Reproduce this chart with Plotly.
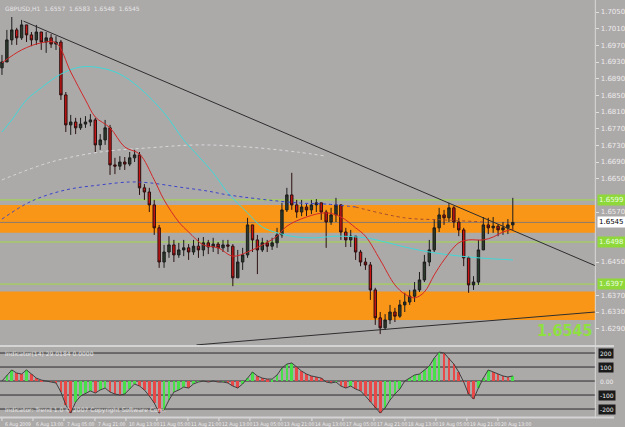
import plotly.graph_objects as go

# ---------------- data ----------------
first_open = 1.6916
close = [1.6930,1.6983,1.7007,1.6988,1.7019,1.6995,1.6983,1.7002,1.6978,1.6988,
         1.6973,1.6978,1.6851,1.6779,1.6786,1.6772,1.6781,1.6786,1.6791,1.6731,
         1.6743,1.6772,1.6683,1.6680,1.6690,1.6685,1.6700,1.6707,1.6628,1.6618,
         1.6587,1.6532,1.6450,1.6474,1.6491,1.6467,1.6479,1.6484,1.6474,1.6488,
         1.6479,1.6496,1.6486,1.6493,1.6484,1.6491,1.6488,1.6412,1.6450,1.6467,
         1.6539,1.6503,1.6479,1.6496,1.6488,1.6496,1.6515,1.6575,1.6611,1.6587,
         1.6570,1.6582,1.6575,1.6587,1.6592,1.6570,1.6546,1.6563,1.6587,1.6522,
         1.6503,1.6512,1.6474,1.6450,1.6443,1.6383,1.6316,1.6292,1.6311,1.6330,
         1.6320,1.6347,1.6354,1.6368,1.6383,1.6407,1.6450,1.6479,1.6532,1.6563,
         1.6556,1.6580,1.6546,1.6527,1.6460,1.6395,1.6402,1.6479,1.6539,1.6532,
         1.6536,1.6527,1.6532,1.6539,1.6545]
high = [1.6947,1.7007,1.7038,1.7012,1.7031,1.7012,1.7002,1.7019,1.7000,1.7002,
        1.6997,1.6992,1.6983,1.6858,1.6803,1.6796,1.6796,1.6800,1.6805,1.6796,
        1.6757,1.6791,1.6779,1.6700,1.6704,1.6702,1.6714,1.6719,1.6714,1.6637,
        1.6628,1.6599,1.6539,1.6491,1.6512,1.6503,1.6496,1.6503,1.6493,1.6503,
        1.6508,1.6510,1.6503,1.6508,1.6498,1.6503,1.6503,1.6493,1.6479,1.6484,
        1.6556,1.6532,1.6515,1.6508,1.6503,1.6508,1.6532,1.6592,1.6628,1.6664,
        1.6599,1.6599,1.6589,1.6599,1.6601,1.6589,1.6575,1.6580,1.6604,1.6589,
        1.6532,1.6527,1.6512,1.6479,1.6460,1.6450,1.6388,1.6330,1.6325,1.6347,
        1.6340,1.6359,1.6376,1.6383,1.6402,1.6426,1.6467,1.6503,1.6551,1.6580,
        1.6575,1.6592,1.6584,1.6556,1.6532,1.6464,1.6416,1.6503,1.6558,1.6556,
        1.6558,1.6541,1.6546,1.6553,1.6604]
low = [1.6899,1.6940,1.6971,1.6971,1.6983,1.6978,1.6968,1.6971,1.6959,1.6952,
       1.6964,1.6959,1.6839,1.6762,1.6755,1.6757,1.6767,1.6772,1.6776,1.6714,
       1.6719,1.6731,1.6659,1.6661,1.6671,1.6671,1.6680,1.6690,1.6611,1.6599,
       1.6570,1.6515,1.6436,1.6436,1.6460,1.6450,1.6460,1.6464,1.6455,1.6467,
       1.6460,1.6464,1.6469,1.6474,1.6469,1.6474,1.6474,1.6392,1.6421,1.6431,
       1.6460,1.6474,1.6421,1.6474,1.6474,1.6479,1.6484,1.6508,1.6570,1.6575,
       1.6556,1.6560,1.6560,1.6565,1.6570,1.6551,1.6484,1.6539,1.6546,1.6503,
       1.6486,1.6486,1.6455,1.6440,1.6431,1.6359,1.6299,1.6277,1.6287,1.6301,
       1.6306,1.6316,1.6330,1.6347,1.6354,1.6378,1.6402,1.6440,1.6474,1.6522,
       1.6539,1.6546,1.6532,1.6512,1.6440,1.6376,1.6383,1.6395,1.6484,1.6517,
       1.6520,1.6512,1.6515,1.6517,1.6527]

# moving averages sampled at bar indices
ma_red_idx = [0,4,8,11,14,17,19,22,25,28,31,33,36,38,41,44,47,50,53,56,58,62,66,69,72,74,77,80,82,84,86,88,90,93,95,98,100,102,104]
ma_red = [1.6928,1.6959,1.6976,1.6976,1.6906,1.6839,1.6798,1.6772,1.6726,1.6709,1.6647,1.6599,1.6546,
          1.6522,1.6491,1.6484,1.6464,1.6474,1.6491,1.6512,1.6536,1.6558,1.6568,1.6558,1.6532,1.6512,
          1.6455,1.6395,1.6373,1.6364,1.6378,1.6419,1.6455,1.6496,1.6503,1.6503,1.6510,1.6522,1.6529]
ma_cyan_idx = [0,2,5,8,12,16,20,24,28,33,37,40,43,46,50,53,57,60,64,68,74,78,82,88,97,104]
ma_cyan = [1.6762,1.6791,1.6839,1.6868,1.6901,1.6918,1.6916,1.6901,1.6868,1.6808,1.6743,1.6704,1.6664,
           1.6616,1.6568,1.6534,1.6517,1.6510,1.6508,1.6512,1.6508,1.6498,1.6486,1.6472,1.6460,1.6455]
ma_blue_idx = [0,6,13,20,26,30,36,42,46,60,66,72]
ma_blue = [1.6553,1.6596,1.6623,1.6635,1.6642,1.6640,1.6630,1.6620,1.6611,1.6592,1.6589,1.6582]
ma_brown_idx = [72,82,90,98]
ma_brown = [1.6582,1.6556,1.6551,1.6546]
ma_white_idx = [0,10,20,30,40,50,60,66]
ma_white = [1.6647,1.6690,1.6714,1.6724,1.6731,1.6726,1.6714,1.6704]

# oscillator (sub window)
osc = [0,43,79,57,50,79,50,21,7,0,-7,-14,-79,-171,-229,-150,-107,-86,-71,-86,
       -64,-50,-79,-93,-100,-93,-57,-21,-36,-64,-107,-157,-229,-207,-136,-79,-64,-43,-50,-21,
       -7,0,-7,0,-7,-7,-14,-36,-50,-21,21,64,36,21,14,14,43,93,121,129,
       100,71,50,36,29,21,-7,-14,-7,-36,-50,-36,-57,-71,-107,-150,-193,-229,-193,-136,
       -93,-57,0,21,43,50,79,107,164,207,200,164,121,64,-7,-93,-129,-50,21,79,
       64,50,36,29,36]
osc_levels = [200, 100, 0, -100, -200]

# horizontal objects
band_upper = (1.6587, 1.6520)
band_lower = (1.6379, 1.6311)
green_levels = [1.6599, 1.6498, 1.6397]
last_price = 1.6545
trend_down = ([4.4, 120.8], [1.7028, 1.6441])
trend_up = ([39.6, 120.8], [1.6251, 1.6330])

price_ticks = [1.7050 - 0.004 * k for k in range(21)]
time_labels = ["6 Aug 2009","6 Aug 13:00","7 Aug 05:00","7 Aug 21:00","10 Aug 13:00","11 Aug 05:00",
               "11 Aug 21:00","12 Aug 13:00","13 Aug 05:00","13 Aug 21:00","14 Aug 13:00","17 Aug 05:00",
               "17 Aug 21:00","18 Aug 13:00","19 Aug 05:00","19 Aug 21:00","20 Aug 13:00"]

# ---------------- figure ----------------
W, H = 625, 427
BG = "#aca9a9"
COND = "DejaVu Sans Condensed, DejaVu Sans"
n = len(close)
idx = list(range(n))
opens = [first_open] + close[:-1]
hi = [max(h, o, c) for h, o, c in zip(high, opens, close)]
lo = [min(l, o, c) for l, o, c in zip(low, opens, close)]

XR = [-0.4, 120.8]
XD = [0, 606 / W]
Y_MAIN = [1 - 345 / H, 1 - 2 / H]
Y_SUB = [1 - 417 / H, 1 - 347 / H]
PR = [1.62508, 1.7074]
OR = [-257, 243]
PX_PER_PRICE = (345 - 2) / (PR[1] - PR[0])

# hide axis tick labels that would sit under the price boxes
boxed = green_levels + [last_price]
shown_ticks = [p for p in price_ticks if all(abs(p - b) * PX_PER_PRICE > 9 for b in boxed)]

fig = go.Figure()

fig.add_trace(go.Candlestick(
    x=idx, open=opens, high=hi, low=lo, close=close,
    increasing=dict(line=dict(color="#1c1c1c", width=1), fillcolor="#2b3b2b"),
    decreasing=dict(line=dict(color="#2a1010", width=1), fillcolor="#c81414"),
    whiskerwidth=0, showlegend=False, hoverinfo="skip", xaxis="x", yaxis="y"))

fig.add_trace(go.Scatter(x=ma_white_idx, y=ma_white, mode="lines", line=dict(color="#d8d8d8", width=1, dash="dot", shape="spline"), showlegend=False))
fig.add_trace(go.Scatter(x=ma_cyan_idx, y=ma_cyan, mode="lines", line=dict(color="#40d8d8", width=1, shape="spline"), showlegend=False))
fig.add_trace(go.Scatter(x=ma_blue_idx, y=ma_blue, mode="lines", line=dict(color="#3a44c8", width=1, dash="dot", shape="spline"), showlegend=False))
fig.add_trace(go.Scatter(x=ma_brown_idx, y=ma_brown, mode="lines", line=dict(color="#a04a30", width=1, dash="dot", shape="spline"), showlegend=False))
fig.add_trace(go.Scatter(x=ma_red_idx, y=ma_red, mode="lines", line=dict(color="#d02828", width=1, shape="spline"), showlegend=False))
fig.add_trace(go.Scatter(x=trend_down[0], y=trend_down[1], mode="lines", line=dict(color="#2e2e2e", width=1), showlegend=False))
fig.add_trace(go.Scatter(x=trend_up[0], y=trend_up[1], mode="lines", line=dict(color="#2e2e2e", width=1), showlegend=False))

# oscillator
cols = []
for k, v in enumerate(osc):
    prev = osc[k - 1] if k > 0 else v
    cols.append("#e84848" if v < prev else "#48e048")
fig.add_trace(go.Bar(x=idx, y=osc, marker=dict(color=cols, line=dict(width=0)), width=0.55,
                     xaxis="x2", yaxis="y2", showlegend=False, hoverinfo="skip"))
fig.add_trace(go.Scatter(x=idx, y=osc, mode="lines", line=dict(color="#404040", width=1),
                         xaxis="x2", yaxis="y2", showlegend=False, hoverinfo="skip"))

shapes = []
for a, b in (band_upper, band_lower):
    shapes.append(dict(type="rect", xref="paper", yref="y", x0=0, x1=XD[1], y0=b, y1=a,
                       fillcolor="#f99618", line=dict(width=0), layer="below"))
for g in green_levels:
    shapes.append(dict(type="line", xref="paper", yref="y", x0=0, x1=XD[1], y0=g, y1=g,
                       line=dict(color="#a2dc44", width=1), layer="below"))
shapes.append(dict(type="line", xref="paper", yref="y", x0=0, x1=XD[1], y0=last_price, y1=last_price,
                   line=dict(color="#8a7a70", width=1), layer="below"))
for lv in osc_levels:
    shapes.append(dict(type="line", xref="paper", yref="y2", x0=0, x1=XD[1], y0=lv, y1=lv,
                       line=dict(color="#2a2a2a", width=1), layer="below"))
# window separators
for yp in (1 - 346 / H, 1 - 417.5 / H):
    shapes.append(dict(type="line", xref="paper", yref="paper", x0=0, x1=1, y0=yp, y1=yp,
                       line=dict(color="#d4d4d4", width=2)))
shapes.append(dict(type="line", xref="paper", yref="paper", x0=XD[1], x1=XD[1], y0=1 - 417 / H, y1=1,
                   line=dict(color="#d8d8d8", width=1)))
# small time-axis tick marks
for k in range(len(time_labels)):
    shapes.append(dict(type="line", xref="x", yref="paper", x0=k * 31.55 / 5, x1=k * 31.55 / 5,
                       y0=1 - 421 / H, y1=1 - 418 / H, line=dict(color="#e0e0e0", width=1)))

ann = []
ann.append(dict(x=0.005, y=1 - 3 / H, xref="paper", yref="paper", xanchor="left", yanchor="top",
                text="GBPUSD,H1  1.6557  1.6583  1.6548  1.6545", showarrow=False,
                font=dict(size=6, color="#e6e6e6", family="DejaVu Sans")))
ann.append(dict(x=0.005, y=1 - 348 / H, xref="paper", yref="paper", xanchor="left", yanchor="top",
                text="Indicator(14) 29.0184 0.0000", showarrow=False,
                font=dict(size=6, color="#e6e6e6", family="DejaVu Sans")))
ann.append(dict(x=0.005, y=1 - 416 / H, xref="paper", yref="paper", xanchor="left", yanchor="bottom",
                text="Indicator: Trend 1.0 \u00a9 2007 Copyright Software Corp.", showarrow=False,
                font=dict(size=6, color="#e6e6e6", family="DejaVu Sans")))
ann.append(dict(x=XD[1] - 0.001, y=1 - 342 / H, xref="paper", yref="paper", xanchor="right", yanchor="bottom",
                text="<b>%.4f</b>" % last_price, showarrow=False,
                font=dict(size=16, color="#8ee040", family=COND)))
# price axis boxes
ann.append(dict(x=XD[1] + 0.002, y=last_price, xref="paper", yref="y", xanchor="left", yanchor="middle",
                text="%.4f" % last_price, showarrow=False, bgcolor="#ffffff",
                font=dict(size=7, color="#000000", family="DejaVu Sans")))
for g in green_levels:
    ann.append(dict(x=XD[1] + 0.002, y=g, xref="paper", yref="y", xanchor="left", yanchor="middle",
                    text="%.4f" % g, showarrow=False, bgcolor="#8ed83a",
                    font=dict(size=7, color="#e8ffe0", family="DejaVu Sans")))
for lv in osc_levels:
    if lv == 0:
        ann.append(dict(x=XD[1] + 0.004, y=lv, xref="paper", yref="y2", xanchor="left", yanchor="middle",
                        text="0.00", showarrow=False, font=dict(size=6, color="#f0f0f0", family="DejaVu Sans")))
    else:
        ann.append(dict(x=XD[1] + 0.004, y=lv, xref="paper", yref="y2", xanchor="left", yanchor="middle",
                        text=str(lv), showarrow=False, bgcolor="#1a1a1a",
                        font=dict(size=6, color="#f0f0f0", family="DejaVu Sans")))
for k, t in enumerate(time_labels):
    ann.append(dict(x=k * 31.55 / 5 + 0.15, y=1 - 419 / H, xref="x", yref="paper", xanchor="left", yanchor="top",
                    text=t, showarrow=False,
                    font=dict(size=5, color="#ececec", family=COND)))

fig.update_layout(
    width=W, height=H, margin=dict(l=0, r=0, t=0, b=0),
    paper_bgcolor=BG, plot_bgcolor=BG, showlegend=False, bargap=0,
    shapes=shapes, annotations=ann,
    xaxis=dict(domain=XD, range=XR, showgrid=False, zeroline=False, showticklabels=False,
               rangeslider=dict(visible=False), anchor="y"),
    xaxis2=dict(domain=XD, range=XR, showgrid=False, zeroline=False, showticklabels=False,
                matches="x", anchor="y2"),
    yaxis=dict(domain=Y_MAIN, range=PR, side="right", showgrid=False, zeroline=False,
               tickvals=shown_ticks, ticktext=["%.4f" % p for p in shown_ticks],
               ticks="outside", ticklen=3, tickcolor="#e0e0e0",
               tickfont=dict(size=7, color="#ececec", family="DejaVu Sans"), anchor="x"),
    yaxis2=dict(domain=Y_SUB, range=OR, showgrid=False, zeroline=False, showticklabels=False, anchor="x2"),
)

fig.write_html("out.html")
